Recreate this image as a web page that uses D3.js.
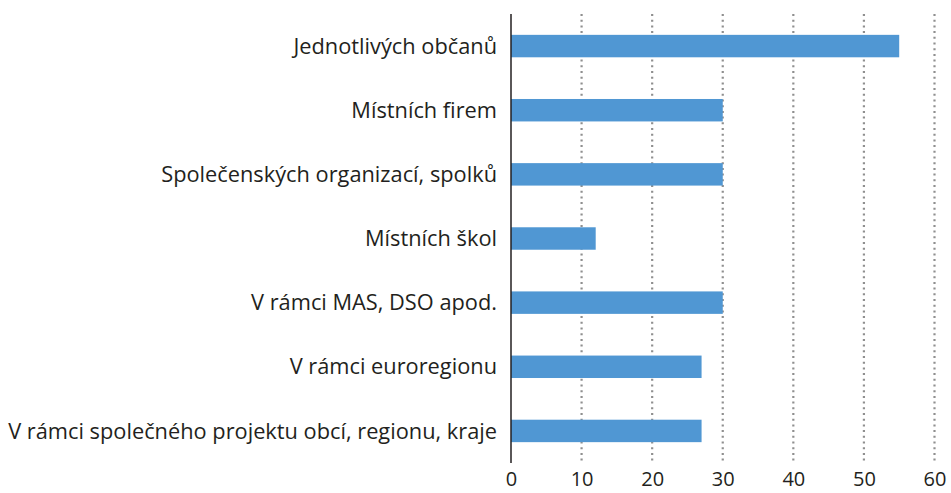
<!DOCTYPE html>
<html>
<head>
<meta charset="utf-8">
<script src="https://cdn.jsdelivr.net/npm/d3@7"></script>
<style>
  html, body { margin: 0; padding: 0; background: #fff; }
  svg text { font-family: "Open Sans", "Noto Sans", sans-serif; fill: #231f20; }
</style>
</head>
<body>
<svg id="chart" width="951" height="493"></svg>
<script>
const categories = [
  "Jednotlivých občanů",
  "Místních firem",
  "Společenských organizací, spolků",
  "Místních škol",
  "V rámci MAS, DSO apod.",
  "V rámci euroregionu",
  "V rámci společného projektu obcí, regionu, kraje"
];
const values = [55, 30, 30, 12, 30, 27, 27];
const xTicks = [0, 10, 20, 30, 40, 50, 60];

const margin = { top: 14, right: 16, bottom: 30, left: 511 };
const width = 951, height = 493;
const svg = d3.select("#chart");

const x = d3.scaleLinear().domain([0, 60]).range([margin.left, 934.5]);
const y = d3.scaleBand().domain(categories)
  .range([margin.top, height - margin.bottom])
  .paddingInner(0.65).paddingOuter(0.325);

// dotted vertical gridlines
svg.append("g").selectAll("line")
  .data(xTicks.filter(d => d > 0))
  .join("line")
  .attr("x1", d => x(d)).attr("x2", d => x(d))
  .attr("y1", margin.top).attr("y2", height - margin.bottom)
  .attr("stroke", "#8f8f8f")
  .attr("stroke-width", 2.2)
  .attr("stroke-dasharray", "2,3.7");

// bars
svg.append("g").selectAll("rect")
  .data(values)
  .join("rect")
  .attr("x", x(0))
  .attr("y", (d, i) => y(categories[i]))
  .attr("width", d => x(d) - x(0))
  .attr("height", y.bandwidth())
  .attr("fill", "#5097d3");

// value axis
const xAxis = svg.append("g")
  .attr("transform", `translate(0,${height - margin.bottom})`)
  .call(d3.axisBottom(x).tickValues(xTicks).tickSize(0).tickPadding(9));
xAxis.select(".domain").remove();
xAxis.selectAll("text")
  .attr("font-size", 20)
  .style("font-family", '"Open Sans", "Noto Sans", sans-serif')
  .attr("fill", "#231f20");

// category labels
const labels = svg.append("g").selectAll("text")
  .data(categories)
  .join("text")
  .attr("x", margin.left - 14)
  .attr("y", d => y(d) + y.bandwidth() / 2)
  .attr("dy", "0.35em")
  .attr("text-anchor", "end")
  .attr("font-size", 19)
  .text(d => d);

// fit the longest label to the left margin
const longest = labels.filter((d, i) => i === categories.length - 1).node();
const w = longest.getComputedTextLength();
const fs = 19 * 489 / w;
labels.attr("font-size", fs);

// category axis line
svg.append("line")
  .attr("x1", x(0)).attr("x2", x(0))
  .attr("y1", margin.top).attr("y2", height - margin.bottom)
  .attr("stroke", "#231f20")
  .attr("stroke-width", 1.5);
</script>
</body>
</html>
